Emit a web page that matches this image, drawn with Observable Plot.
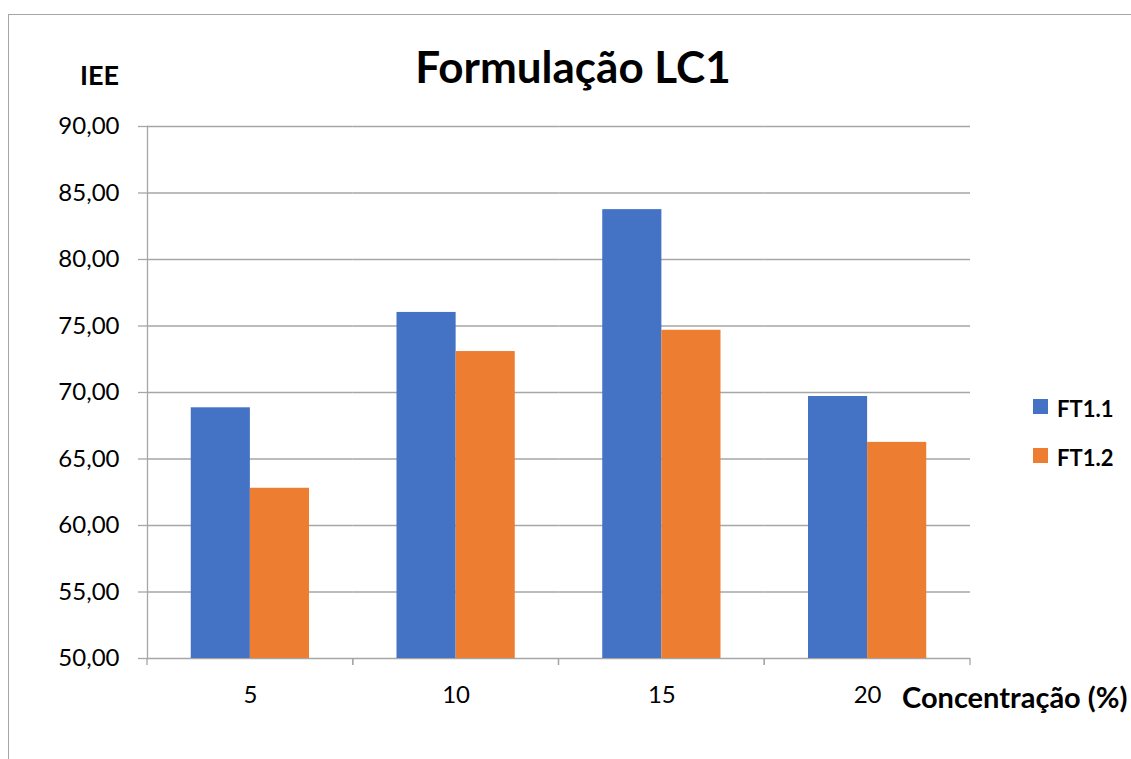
<!DOCTYPE html>
<html>
<head>
<meta charset="utf-8">
<script src="https://cdn.jsdelivr.net/npm/d3@7"></script>
<script src="https://cdn.jsdelivr.net/npm/@observablehq/plot@0.6"></script>
<style>
  html, body { margin: 0; padding: 0; background: #fff; }
  #page { position: relative; width: 1131px; height: 759px; overflow: hidden; font-family: Lato, "Open Sans", sans-serif; color: #000; }
  .frame { position: absolute; left: 8px; top: 14px; width: 2000px; height: 2000px; border-left: 1.3px solid #a6a6a6; border-top: 1.3px solid #a6a6a6; }
  .title { position: absolute; left: 0; width: 1146px; top: 44px; text-align: center; font-size: 44px; line-height: 44px; font-weight: bold; }
  .ylabel { position: absolute; left: 80px; top: 61px; font-size: 27px; line-height: 27px; font-weight: bold; }
  .xlabel { position: absolute; left: 902px; top: 682px; font-size: 29px; line-height: 29px; font-weight: bold; white-space: nowrap; }
  #chart { position: absolute; left: 0; top: 100px; }
  #chart svg text { font-size: 24px; font-family: Lato, "Open Sans", sans-serif; fill: #000; }
  #chart svg line, #chart svg path { stroke: #a6a6a6; stroke-width: 1.3px; }
  .legend { position: absolute; left: 1033px; top: 399px; }
  .legend .item { position: relative; height: 49px; }
  .legend .swatch { position: absolute; left: 0; top: 0; width: 15px; height: 15px; }
  .legend .name { position: absolute; left: 24px; top: -1px; font-size: 22px; line-height: 22px; font-weight: bold; white-space: nowrap; }
</style>
</head>
<body>
<div id="page">
  <div class="frame"></div>
  <div class="title">Formulação LC1</div>
  <div class="ylabel">IEE</div>
  <div id="chart"></div>
  <div class="xlabel">Concentração (%)</div>
  <div class="legend" id="legend"></div>
</div>
<script>
// Concentrations (%) on the x axis
const concentrations = ["5", "10", "15", "20"];
// Series names and their colours
const series = ["FT1.1", "FT1.2"];
const seriesColors = ["#4472C4", "#ED7D31"];
// IEE values per concentration
const ft11 = [68.85, 76.02, 83.75, 69.70];
const ft12 = [62.80, 73.08, 74.68, 66.25];
// Y axis ticks
const yTicks = [50, 55, 60, 65, 70, 75, 80, 85, 90];

const rows = concentrations.flatMap((c, i) => [
  {conc: c, series: series[0], value: ft11[i]},
  {conc: c, series: series[1], value: ft12[i]}
]);

const yMin = d3.min(yTicks);
const yMax = d3.max(yTicks);

// Small tick marks at the category boundaries under the x axis
function boundaryTicks(index, scales, values, dimensions) {
  const g = d3.create("svg:g");
  let x0, x1;
  if (scales.x && scales.x.range) {
    [x0, x1] = scales.x.range();
  } else {
    x0 = dimensions.marginLeft;
    x1 = dimensions.width - dimensions.marginRight;
  }
  const yb = scales.y(yMin);
  for (const x of [x0, x1]) {
    g.append("line")
      .attr("x1", x).attr("x2", x)
      .attr("y1", yb).attr("y2", yb + 7)
      .attr("stroke", "#a6a6a6");
  }
  return g.node();
}

const chart = Plot.plot({
  width: 990,
  height: 620,
  marginTop: 26,
  marginBottom: 62,
  marginLeft: 147,
  marginRight: 20,
  style: {fontFamily: "Lato, sans-serif", fontSize: "24px", background: "transparent", color: "#000"},
  fx: {domain: concentrations, padding: 0, round: false, axis: "bottom", tickSize: 0, tickPadding: 27, label: null},
  x: {domain: series, paddingInner: 0, paddingOuter: 0.74, round: false, axis: null},
  y: {
    domain: [yMin, yMax],
    ticks: yTicks,
    tickFormat: d => d.toFixed(2).replace(".", ","),
    tickSize: 9,
    tickPadding: 19,
    line: true,
    label: null
  },
  color: {domain: series, range: seriesColors},
  marks: [
    Plot.ruleY(yTicks, {stroke: "#a6a6a6", strokeWidth: 1.3}),
    Plot.barY(rows, {fx: "conc", x: "series", y1: yMin, y2: "value", fill: "series"}),
    boundaryTicks
  ]
});
document.getElementById("chart").appendChild(chart);

// Legend built from the same series list
const legend = d3.select("#legend");
series.forEach((s, i) => {
  const item = legend.append("div").attr("class", "item");
  item.append("div").attr("class", "swatch").style("background", seriesColors[i]);
  item.append("div").attr("class", "name").text(s);
});
</script>
</body>
</html>
